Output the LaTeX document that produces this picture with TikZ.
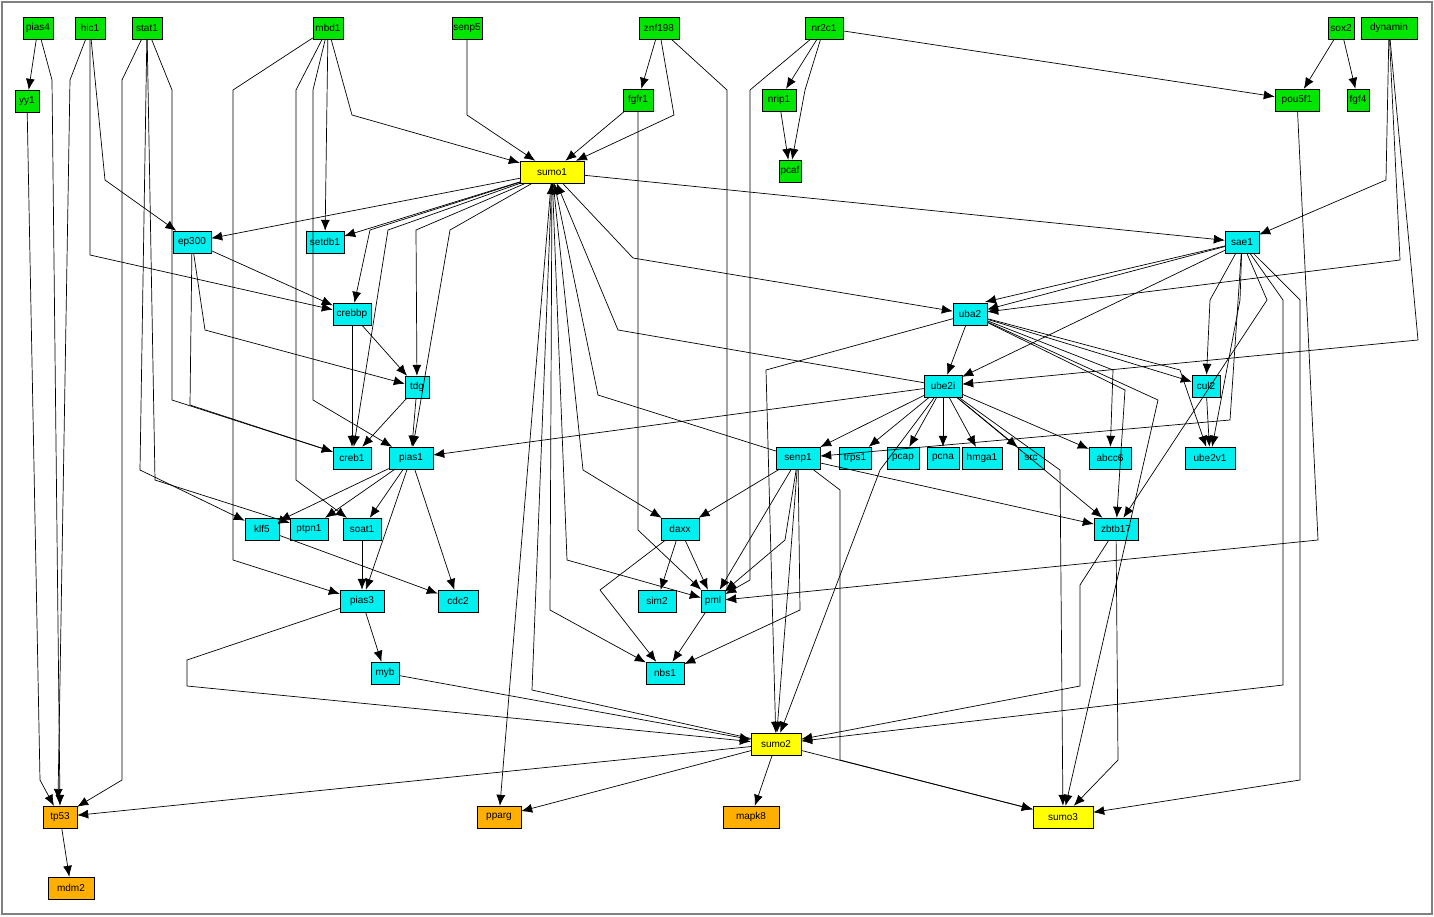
\documentclass[tikz,border=0pt]{standalone}
\usepackage{fontspec}
\setmainfont{Liberation Sans}
\usetikzlibrary{arrows.meta}
\definecolor{nodegreen}{RGB}{0,230,0}
\definecolor{nodecyan}{RGB}{0,240,240}
\definecolor{nodeyellow}{RGB}{255,255,0}
\definecolor{nodeorange}{RGB}{255,175,0}
\begin{document}
\begin{tikzpicture}[x=1pt, y=-1pt,
    every node/.style={rectangle, draw, inner sep=1pt, minimum height=22pt, minimum width=30pt, font=\fontsize{10}{11}\selectfont},
    top/.style={fill=nodegreen},
    mid/.style={fill=nodecyan},
    hub/.style={fill=nodeyellow},
    low/.style={fill=nodeorange},
    edge/.style={-{Latex[length=11pt,width=9pt]}, line width=0.7pt}
]
\useasboundingbox (0,0) rectangle (1434,916);
\draw[gray, line width=1.2pt] (2,2) rectangle (1432,914);

% top row
\node[top] (pias4) at (38,28) {pias4};
\node[top] (hic1) at (90,28) {hic1};
\node[top] (stat1) at (147,28) {stat1};
\node[top] (mbd1) at (328,28) {mbd1};
\node[top] (senp5) at (467,28) {senp5};
\node[top, minimum width=40pt] (znf198) at (659,28) {znf198};
\node[top, minimum width=38pt] (nr2c1) at (824,28) {nr2c1};
\node[top, minimum width=26pt] (sox2) at (1341,28) {sox2};
\node[top, minimum width=56pt] (dynamin) at (1389,28) {dynamin};
\node[top, minimum width=24pt] (yy1) at (27,101) {yy1};
\node[top] (fgfr1) at (638,100) {fgfr1};
\node[top, minimum width=34pt] (nrip1) at (779,100) {nrip1};
\node[top, minimum width=44pt] (pou5f1) at (1297,100) {pou5f1};
\node[top, minimum width=22pt] (fgf4) at (1358,100) {fgf4};
\node[top, minimum width=22pt] (pcaf) at (790,171) {pcaf};

% hubs
\node[hub, minimum width=64pt] (sumo1) at (552,172) {sumo1};
\node[hub, minimum width=50pt] (sumo2) at (776,744) {sumo2};
\node[hub, minimum width=60pt] (sumo3) at (1063,817) {sumo3};

% middle
\node[mid, minimum width=38pt] (ep300) at (192,242) {ep300};
\node[mid, minimum width=38pt] (setdb1) at (325,242) {setdb1};
\node[mid, minimum width=34pt] (sae1) at (1242,242) {sae1};
\node[mid, minimum width=38pt] (crebbp) at (352,314) {crebbp};
\node[mid, minimum width=34pt] (uba2) at (970,314) {uba2};
\node[mid, minimum width=24pt] (tdg) at (417,387) {tdg};
\node[mid, minimum width=38pt] (ube2i) at (943,386) {ube2i};
\node[mid, minimum width=28pt] (cul2) at (1206,386) {cul2};
\node[mid, minimum width=38pt] (creb1) at (352,458) {creb1};
\node[mid, minimum width=44pt] (pias1) at (411,458) {pias1};
\node[mid, minimum width=44pt] (senp1) at (798,458) {senp1};
\node[mid, minimum width=32pt] (trps1) at (855,458) {trps1};
\node[mid, minimum width=32pt] (pcap) at (903,458) {pcap};
\node[mid, minimum width=32pt] (pcna) at (943,458) {pcna};
\node[mid, minimum width=40pt] (hmga1) at (982,458) {hmga1};
\node[mid, minimum width=26pt] (src) at (1031,458) {src};
\node[mid, minimum width=42pt] (abcc6) at (1110,458) {abcc6};
\node[mid, minimum width=50pt] (ube2v1) at (1210,458) {ube2v1};
\node[mid, minimum width=34pt] (klf5) at (262,529) {klf5};
\node[mid, minimum width=38pt] (ptpn1) at (309,529) {ptpn1};
\node[mid, minimum width=38pt] (soat1) at (362,529) {soat1};
\node[mid, minimum width=38pt] (daxx) at (680,529) {daxx};
\node[mid, minimum width=44pt] (zbtb17) at (1116,529) {zbtb17};
\node[mid, minimum width=44pt] (pias3) at (362,601) {pias3};
\node[mid, minimum width=40pt] (cdc2) at (458,601) {cdc2};
\node[mid, minimum width=38pt] (sim2) at (657,601) {sim2};
\node[mid, minimum width=24pt] (pml) at (713,601) {pml};
\node[mid, minimum width=28pt] (myb) at (385,673) {myb};
\node[mid, minimum width=38pt] (nbs1) at (665,673) {nbs1};

% bottom
\node[low, minimum width=34pt] (tp53) at (60,817) {tp53};
\node[low, minimum width=44pt] (pparg) at (499,817) {pparg};
\node[low, minimum width=56pt] (mapk8) at (751,817) {mapk8};
\node[low, minimum width=46pt] (mdm2) at (71,888) {mdm2};

% top row edges
\draw[edge] (pias4) -- (yy1);
\draw[edge] (pias4) -- (52,80) -- (tp53.north);
\draw[edge] (yy1) -- (40,780) -- (tp53);
\draw[edge] (hic1) -- (70,80) -- (58,800);
\draw[edge] (hic1) -- (105,180) -- (ep300);
\draw[edge] (hic1) -- (90,255) -- (crebbp);
\draw[edge] (stat1) -- (122,80) -- (122,780) -- (tp53);
\draw[edge] (stat1) -- (140,470) -- (klf5);
\draw[edge] (stat1) -- (155,480) -- (ptpn1);
\draw[edge] (stat1) -- (172,90) -- (172,400) -- (creb1);
\draw[edge] (mbd1) -- (233,90) -- (233,560) -- (pias3);
\draw[edge] (mbd1) -- (296,90) -- (296,480) -- (soat1);
\draw[edge] (mbd1) -- (setdb1);
\draw[edge] (mbd1) -- (313,90) -- (313,400) -- (pias1);
\draw[edge] (mbd1) -- (352,115) -- (sumo1);
\draw[edge] (senp5) -- (467,115) -- (sumo1);
\draw[edge] (znf198) -- (fgfr1);
\draw[edge] (znf198) -- (674,115) -- (sumo1);
\draw[edge] (znf198) -- (727,90) -- (727,590) -- (pml);
\draw[edge] (fgfr1) -- (sumo1);
\draw[edge] (fgfr1) -- (638,530) -- (pml);
\draw[edge] (nr2c1) -- (nrip1);
\draw[edge] (nr2c1) -- (805,90) -- (pcaf);
\draw[edge] (nr2c1) -- (pou5f1);
\draw[edge] (nr2c1) -- (750,90) -- (750,580) -- (pml);
\draw[edge] (nrip1) -- (pcaf);
\draw[edge] (sox2) -- (pou5f1);
\draw[edge] (sox2) -- (fgf4);
\draw[edge] (dynamin) -- (1386,180) -- (sae1);
\draw[edge] (dynamin) -- (1400,260) -- (uba2);
\draw[edge] (dynamin) -- (1418,340) -- (ube2i);
\draw[edge] (pou5f1) -- (1318,540) -- (pml);

% sumo1 edges
\draw[edge] (sumo1) -- (ep300);
\draw[edge] (sumo1) -- (setdb1);
\draw[edge] (sumo1) -- (370,230) -- (crebbp);
\draw[edge] (sumo1) -- (416,230) -- (tdg);
\draw[edge] (sumo1) -- (450,230) -- (pias1);
\draw[edge] (sumo1) -- (388,230) -- (creb1);
\draw[edge] (sumo1) -- (sae1);
\draw[edge] (sumo1) -- (633,258) -- (uba2);
\draw[edge] (sumo1) -- (583,470) -- (daxx);
\draw[edge] (sumo1) -- (567,560) -- (pml);
\draw[edge] (sumo1) -- (550,610) -- (nbs1);
\draw[edge] (sumo1) -- (pparg);
\draw[edge] (ube2i) -- (618,330) -- (sumo1);
\draw[edge] (senp1) -- (598,395) -- (sumo1);
\draw[edge] (sumo2) -- (532,690) -- (sumo1);

% sae1, uba2 edges
\draw[edge] (sae1) -- (uba2);
\draw[edge] (sae1) -- (985,302);
\draw[edge] (sae1) -- (ube2i);
\draw[edge] (sae1) -- (1210,300) -- (cul2);
\draw[edge] (sae1) -- (1240,300) -- (ube2v1);
\draw[edge] (sae1) -- (1267,300) -- (zbtb17);
\draw[edge] (sae1) -- (1283,300) -- (1283,685) -- (sumo2);
\draw[edge] (sae1) -- (1230,420) -- (senp1);
\draw[edge] (sae1) -- (1300,300) -- (1300,780) -- (sumo3);
\draw[edge] (uba2) -- (ube2i);
\draw[edge] (uba2) -- (cul2);
\draw[edge] (uba2) -- (1180,370) -- (ube2v1);
\draw[edge] (uba2) -- (1113,370) -- (abcc6);
\draw[edge] (uba2) -- (1125,390) -- (zbtb17);
\draw[edge] (uba2) -- (1158,400) -- (sumo3);
\draw[edge] (uba2) -- (766,370) -- (sumo2);
\draw[edge] (cul2) -- (ube2v1);

% ube2i edges
\draw[edge] (ube2i) -- (pias1);
\draw[edge] (ube2i) -- (senp1);
\draw[edge] (ube2i) -- (trps1);
\draw[edge] (ube2i) -- (pcap);
\draw[edge] (ube2i) -- (pcna);
\draw[edge] (ube2i) -- (hmga1);
\draw[edge] (ube2i) -- (src);
\draw[edge] (ube2i) -- (abcc6);
\draw[edge] (ube2i) -- (zbtb17);
\draw[edge] (ube2i) -- (1060,470) -- (sumo3);
\draw[edge] (ube2i) -- (880,470) -- (sumo2);

% left cluster
\draw[edge] (ep300) -- (crebbp);
\draw[edge] (ep300) -- (205,330) -- (tdg);
\draw[edge] (ep300) -- (190,405) -- (creb1);
\draw[edge] (crebbp) -- (tdg);
\draw[edge] (crebbp) -- (creb1);
\draw[edge] (tdg) -- (creb1);
\draw[edge] (tdg) -- (pias1);
\draw[edge] (pias1) -- (klf5);
\draw[edge] (pias1) -- (ptpn1);
\draw[edge] (pias1) -- (soat1);
\draw[edge] (pias1) -- (pias3);
\draw[edge] (pias1) -- (cdc2);
\draw[edge] (klf5) -- (cdc2);
\draw[edge] (soat1) -- (pias3);
\draw[edge] (pias3) -- (myb);
\draw[edge] (pias3) -- (187,660) -- (187,686) -- (sumo2);
\draw[edge] (myb) -- (sumo2);

% senp1, daxx, pml
\draw[edge] (senp1) -- (daxx);
\draw[edge] (senp1) -- (pml);
\draw[edge] (senp1) -- (785,540) -- (pml);
\draw[edge] (senp1) -- (800,610) -- (nbs1);
\draw[edge] (senp1) -- (sumo2);
\draw[edge] (senp1) -- (840,490) -- (840,760) -- (sumo3);
\draw[edge] (senp1) -- (zbtb17);
\draw[edge] (daxx) -- (sim2);
\draw[edge] (daxx) -- (pml);
\draw[edge] (daxx) -- (600,590) -- (nbs1);
\draw[edge] (pml) -- (nbs1);
\draw[edge] (zbtb17) -- (1080,585) -- (1080,686) -- (sumo2);
\draw[edge] (zbtb17) -- (1118,760) -- (sumo3);

% sumo2 edges
\draw[edge] (sumo2) -- (tp53);
\draw[edge] (sumo2) -- (pparg);
\draw[edge] (sumo2) -- (mapk8);
\draw[edge] (sumo2) -- (sumo3);
\draw[edge] (tp53) -- (mdm2);
\end{tikzpicture}
\end{document}
